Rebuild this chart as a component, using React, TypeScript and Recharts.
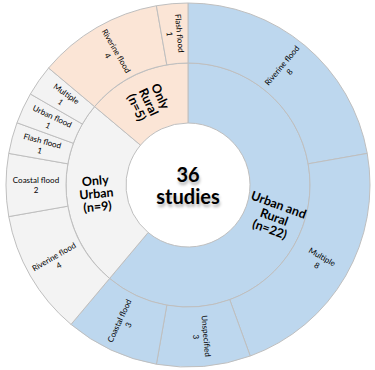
import { PieChart, Pie, Cell } from "recharts"

// inner ring: study setting
const groups = ["Urban and Rural", "Only Urban", "Only Rural"]
const groupCounts = [22, 9, 5]
const groupLines = [["Urban and", "Rural", "(n=22)"], ["Only", "Urban", "(n=9)"], ["Only", "Rural", "(n=5)"]]

// outer ring: flood type within each setting
const subLabels = [
  "Riverine flood", "Multiple", "Unspecified", "Coastal flood",
  "Riverine flood", "Coastal flood", "Flash flood", "Urban flood", "Multiple",
  "Riverine flood", "Flash flood",
]
const subCounts = [8, 8, 3, 3, 4, 2, 1, 1, 1, 4, 1]
const subGroup = [0, 0, 0, 0, 1, 1, 1, 1, 1, 2, 2]

const groupColors = ["#bdd7ee", "#f3f3f3", "#fbe5d6"]
const RAD = Math.PI / 180
const FONT = "Lato, 'Open Sans', sans-serif"

const innerData = groups.map((g, i) => ({ name: g, value: groupCounts[i], lines: groupLines[i] }))
const outerData = subLabels.map((s, i) => ({
  name: s,
  value: subCounts[i],
  group: subGroup[i],
  lines: [s, String(subCounts[i])],
}))

function radialLabel(bold: boolean, size: number, lineH: number) {
  return (props: any) => {
    const { cx, cy, midAngle, innerRadius, outerRadius, payload } = props
    const r = (innerRadius + outerRadius) / 2
    const x = cx + r * Math.cos(-midAngle * RAD)
    const y = cy + r * Math.sin(-midAngle * RAD)
    let theta = (90 - midAngle) % 360
    if (theta < 0) theta += 360
    const rot = theta < 180 ? theta - 90 : theta - 270
    const lines: string[] = payload.lines
    const y0 = -((lines.length - 1) * lineH) / 2
    return (
      <text
        x={x}
        y={y}
        transform={`rotate(${rot} ${x} ${y})`}
        textAnchor="middle"
        dominantBaseline="central"
        fontFamily={FONT}
        fontSize={size}
        fontWeight={bold ? 700 : 400}
        fill="#000"
      >
        {lines.map((l, i) => (
          <tspan key={i} x={x} dy={i === 0 ? y0 : lineH} dominantBaseline="central">
            {l}
          </tspan>
        ))}
      </text>
    )
  }
}

export default function App() {
  return (
    <div style={{ position: "absolute", left: 0, top: 0, width: 375, height: 370, background: "#fff" }}>
      <PieChart width={375} height={370} margin={{ top: 0, right: 0, bottom: 0, left: 0 }}>
        <Pie
          data={innerData}
          dataKey="value"
          cx={188}
          cy={185}
          innerRadius={62}
          outerRadius={122}
          startAngle={90}
          endAngle={-270}
          stroke="#bfbfbf"
          strokeWidth={1}
          label={radialLabel(true, 12.5, 13)}
          labelLine={false}
          isAnimationActive={false}
        >
          {innerData.map((_, i) => (
            <Cell key={i} fill={groupColors[i]} />
          ))}
        </Pie>
        <Pie
          data={outerData}
          dataKey="value"
          cx={188}
          cy={185}
          innerRadius={122}
          outerRadius={182}
          startAngle={90}
          endAngle={-270}
          stroke="#bfbfbf"
          strokeWidth={1}
          label={radialLabel(false, 8, 10)}
          labelLine={false}
          isAnimationActive={false}
        >
          {outerData.map((d, i) => (
            <Cell key={i} fill={groupColors[d.group]} />
          ))}
        </Pie>
      </PieChart>
      <div
        style={{
          position: "absolute",
          left: 138,
          top: 163,
          width: 100,
          textAlign: "center",
          fontFamily: FONT,
          fontWeight: 700,
          fontSize: 20,
          lineHeight: "22px",
          color: "#000",
          textShadow: "1px 3px 3px rgba(0,0,0,0.3)",
        }}
      >
        36
        <br />
        studies
      </div>
    </div>
  )
}
